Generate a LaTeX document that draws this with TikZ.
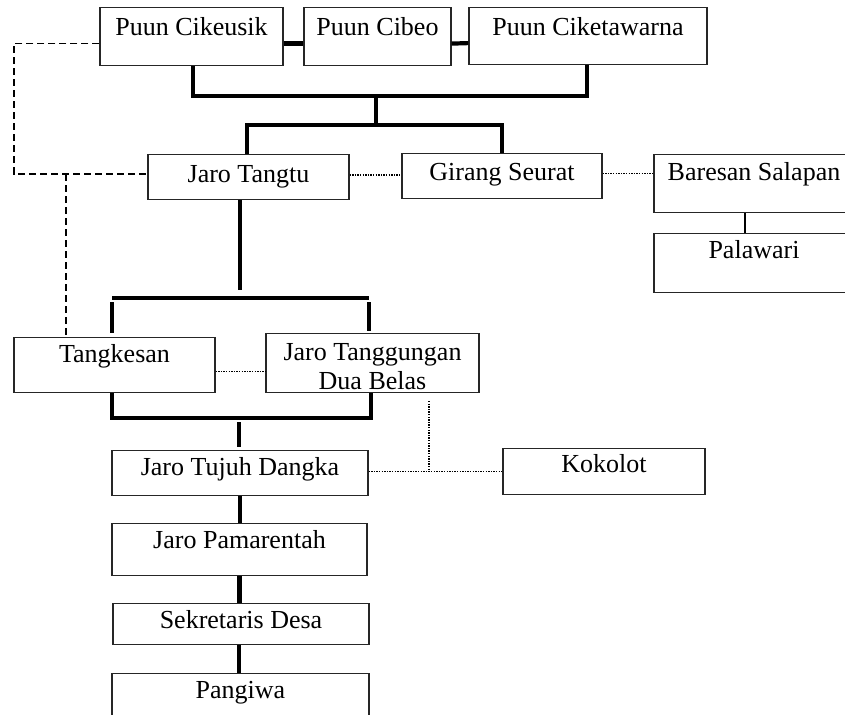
\documentclass[tikz,border=0pt]{standalone}
\usepackage{fontspec}
\setmainfont{Liberation Serif}
\begin{document}
\begin{tikzpicture}[x=1pt,y=-1pt,
  obox/.style={draw=black!85, line width=1.2pt, rectangle, inner sep=0pt, anchor=north,
    font=\fontsize{26}{29}\selectfont},
  thk/.style={line width=4.2pt, black},
  bline/.style={line width=1.4pt, black},
  dot/.style={line width=1.4pt, black, dash pattern=on 1.3pt off 1.3pt},
  dsh/.style={line width=1.4pt, black, dash pattern=on 7pt off 4pt}]
\fill[white] (0,0) rectangle (845,714);
\useasboundingbox (0,0) rectangle (845,714);

% boxes
\node[obox, minimum width=183pt, text height=28pt, text depth=30pt] (pc1) at (191.5,7) {Puun Cikeusik};
\node[obox, minimum width=147pt, text height=28pt, text depth=30pt] (pc2) at (377.5,7) {Puun Cibeo};
\node[obox, minimum width=238pt, text height=28pt, text depth=29pt] (pc3) at (588,7) {Puun Ciketawarna};
\node[obox, minimum width=201pt, text height=28pt, text depth=17pt] (jt) at (248.5,154) {Jaro Tangtu};
\node[obox, minimum width=200pt, text height=27pt, text depth=18pt] (gs) at (502,153) {Girang Seurat};
\node[obox, minimum width=200pt, text height=26pt, text depth=32pt] (bs) at (754,154) {Baresan Salapan};
\node[obox, minimum width=200pt, text height=25pt, text depth=34pt] (pw) at (754,233) {Palawari};
\node[obox, minimum width=201pt, text height=25pt, text depth=30pt] (tk) at (114.5,337) {Tangkesan};
\node[obox, minimum width=213pt, text height=27pt, text depth=32pt] (jtd) at (372.5,333)
  {\begin{tabular}[t]{@{}c@{}}Jaro Tanggungan\\Dua Belas\end{tabular}};
\node[obox, minimum width=256pt, text height=25pt, text depth=20pt] (j7) at (240,450) {Jaro Tujuh Dangka};
\node[obox, minimum width=202pt, text height=24pt, text depth=22pt] (kk) at (604,448) {Kokolot};
\node[obox, minimum width=255pt, text height=25pt, text depth=27pt] (jp) at (239.5,523) {Jaro Pamarentah};
\node[obox, minimum width=256pt, text height=25pt, text depth=16pt] (sd) at (241,603) {Sekretaris Desa};
\node[obox, minimum width=257pt, text height=25pt, text depth=40pt] (pg) at (240.5,673) {Pangiwa};

% thick connectors among Puun
\draw[thk] ([yshift=-7pt]pc1.east) -- ([yshift=-7pt]pc2.west);
\draw[thk] ([yshift=-7pt]pc2.east) -- ([yshift=-7pt]pc3.west);
\draw[thk] ([xshift=1.5pt]pc1.south) -- ++(0,30) -| ([xshift=-1pt]pc3.south);
\coordinate (t1) at (376,95);
\coordinate (t2) at (376,125);
\draw[thk] (t1) -- (t2);
\draw[thk] ([xshift=-1.5pt]jt.north) |- (t2) -| (gs.north);

% Jaro Tangtu down
\coordinate (m1) at (240,290);
\draw[thk] ([xshift=-8.5pt]jt.south) -- (m1);
\coordinate (m2l) at (112,298);
\coordinate (m2r) at (369,298);
\draw[thk] (m2l) -- (m2r);
\coordinate (v1) at (112,302);
\coordinate (v2) at (369,302);
\draw[thk, shorten >=4pt] (v1) -- (v1 |- tk.north);
\draw[thk, shorten >=2pt] (v2) -- (v2 |- jtd.north);

% bottom bracket
\draw[thk] ([xshift=-2.5pt]tk.south) -- ++(0,25) -| ([xshift=-1.5pt]jtd.south);
\coordinate (m3) at (239,422);
\draw[thk, shorten >=3pt] (m3) -- (m3 |- j7.north);

% vertical chain
\draw[thk] (j7.south) -- (j7.south |- jp.north);
\draw[thk] (jp.south) -- (jp.south |- sd.north);
\draw[thk] ([xshift=-2pt]sd.south) -- ([xshift=-2pt]sd.south |- pg.north);

% Baresan - Palawari
\draw[bline] ([xshift=-9pt]bs.south) -- ([xshift=-9pt]pw.north);

% dotted
\draw[dot] ([yshift=2pt]jt.east) -- ([yshift=2pt]jt.east -| gs.west);
\draw[dot] ([yshift=2.5pt]gs.east) -- ([yshift=2.5pt]gs.east -| bs.west);
\draw[dot] ([yshift=-6.5pt]tk.east) -- ([yshift=-6.5pt]tk.east -| jtd.west);
\draw[dot] ([yshift=1.5pt]j7.east) -- ([yshift=1.5pt]j7.east -| kk.west);
\coordinate (kd) at (429,401);
\draw[dot, shorten >=4pt] (kd) -- (kd |- j7.east);

% dashed
\coordinate (dc) at (14,174);
\draw[dsh] ([yshift=-7pt]pc1.west) -| (dc) -- (dc -| jt.west);
\coordinate (dk) at (66,174);
\draw[dsh] (dk) -- (dk |- tk.north);
\end{tikzpicture}
\end{document}
